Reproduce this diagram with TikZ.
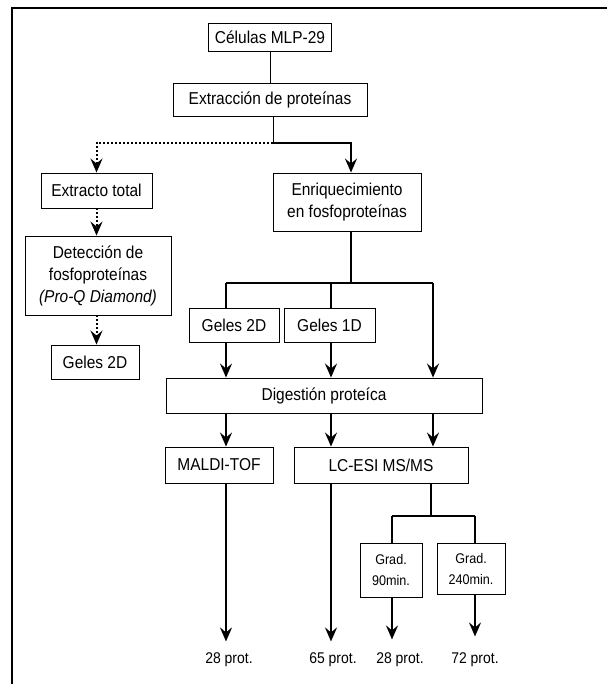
\documentclass[tikz,border=0pt]{standalone}
\usepackage{fontspec}
\setmainfont{Liberation Sans}[FakeStretch=0.9]
\usetikzlibrary{arrows.meta}

\tikzset{
  box/.style={draw,line width=.9pt,inner sep=0pt,align=center,
    font=\fontsize{17.2}{22}\selectfont},
  smallbox/.style={box,font=\fontsize{14}{21}\selectfont},
  thin/.style={line width=.9pt},
  thick/.style={line width=2pt},
  dots/.style={line width=2pt,dotted},
  tip/.style={-{Stealth[length=14pt,width=12pt,inset=5pt]}},
  res/.style={font=\fontsize{15.5}{18}\selectfont}
}

\begin{document}
\begin{tikzpicture}[x=1pt,y=-1pt]
  \useasboundingbox (0,0) rectangle (607,684);
  \draw[line width=2.5pt] (12,684) -- (12,8) -- (607,8);

  \node (cel) [box,minimum width=123pt,minimum height=28pt] at (270,37) {Células MLP-29};
  \node (ext) [box,minimum width=194pt,minimum height=33pt] at (270,99.5) {Extracción de proteínas};
  \node (tot) [box,minimum width=111pt,minimum height=35pt] at (96.5,190.5) {Extracto total};
  \node (enr) [box,minimum width=148pt,minimum height=58pt] at (347,202) {Enriquecimiento\\en fosfoproteínas};
  \node (det) [box,minimum width=146pt,minimum height=79pt] at (98,275.5) {Detección de\\fosfoproteínas\\\textit{(Pro-Q Diamond)}};
  \node (gla) [box,minimum width=88pt,minimum height=34pt] at (95,362) {Geles 2D};
  \node (g2) [box,minimum width=90pt,minimum height=34pt] at (234,325) {Geles 2D};
  \node (g1) [box,minimum width=91pt,minimum height=34pt] at (329.5,325) {Geles 1D};
  \node (dig) [box,minimum width=316pt,minimum height=35pt] at (324,395.5) {Digestión proteíca};
  \node (mal) [box,minimum width=108pt,minimum height=36pt] at (219,465) {MALDI-TOF};
  \node (lc) [box,minimum width=174pt,minimum height=36pt] at (381,465) {LC-ESI MS/MS};
  \node (g90) [smallbox,minimum width=62pt,minimum height=54pt] at (391,570) {Grad.\\90min.};
  \node (g240) [smallbox,minimum width=68pt,minimum height=51pt] at (471,568.5) {Grad.\\240min.};

  \node (pa) [res] at (229,660) {28 prot.};
  \node (pb) [res] at (333,660) {65 prot.};
  \node (pc) [res] at (400,660) {28 prot.};
  \node (pd) [res] at (475,660) {72 prot.};

  \coordinate (sp) at (273,143);
  \coordinate (br) at (351,283);
  \coordinate (ca) at (226,0);
  \coordinate (cb) at (331,0);
  \coordinate (cc) at (433,0);
  \coordinate (ms) at (431,516);
  \coordinate (cd) at (392,0);
  \coordinate (ce) at (475,0);

  \draw[thin] (cel.south) -- (ext.north);
  \draw[thin] (ext.south -| sp) -- (sp);
  \draw[dots,tip] (sp) -| (tot.north);
  \draw[thick,tip] (sp) -| (enr.north -| br);
  \draw[dots,tip] (tot.south) -- (det.north -| tot.south);
  \draw[dots,tip] (det.south -| tot.south) -- (gla.north -| tot.south);

  \draw[thick] (enr.south -| br) -- (br);
  \draw[thick] (br -| ca) -- (br -| cc);
  \draw[thick] (br -| ca) -- (g2.north -| ca);
  \draw[thick] (br -| cb) -- (g1.north -| cb);
  \draw[thick,tip] (br -| cc) -- (dig.north -| cc);
  \draw[thick,tip] (g2.south -| ca) -- (dig.north -| ca);
  \draw[thick,tip] (g1.south -| cb) -- (dig.north -| cb);

  \draw[thick,tip] (dig.south -| ca) -- (mal.north -| ca);
  \draw[thick,tip] (dig.south -| cb) -- (lc.north -| cb);
  \draw[thick,tip] (dig.south -| cc) -- (lc.north -| cc);

  \draw[thick,tip] (mal.south -| ca) -- ([yshift=8pt]pa.north -| ca);
  \draw[thick,tip] (lc.south -| cb) -- ([yshift=8pt]pb.north -| cb);
  \draw[thick] (lc.south -| ms) -- (ms);
  \draw[thick] (ms -| cd) -- (ms -| ce);
  \draw[thick] (ms -| cd) -- (g90.north -| cd);
  \draw[thick] (ms -| ce) -- (g240.north -| ce);
  \draw[thick,tip] (g90.south -| cd) -- ([yshift=10pt]pc.north -| cd);
  \draw[thick,tip] (g240.south -| ce) -- ([yshift=13pt]pd.north -| ce);
\end{tikzpicture}
\end{document}
